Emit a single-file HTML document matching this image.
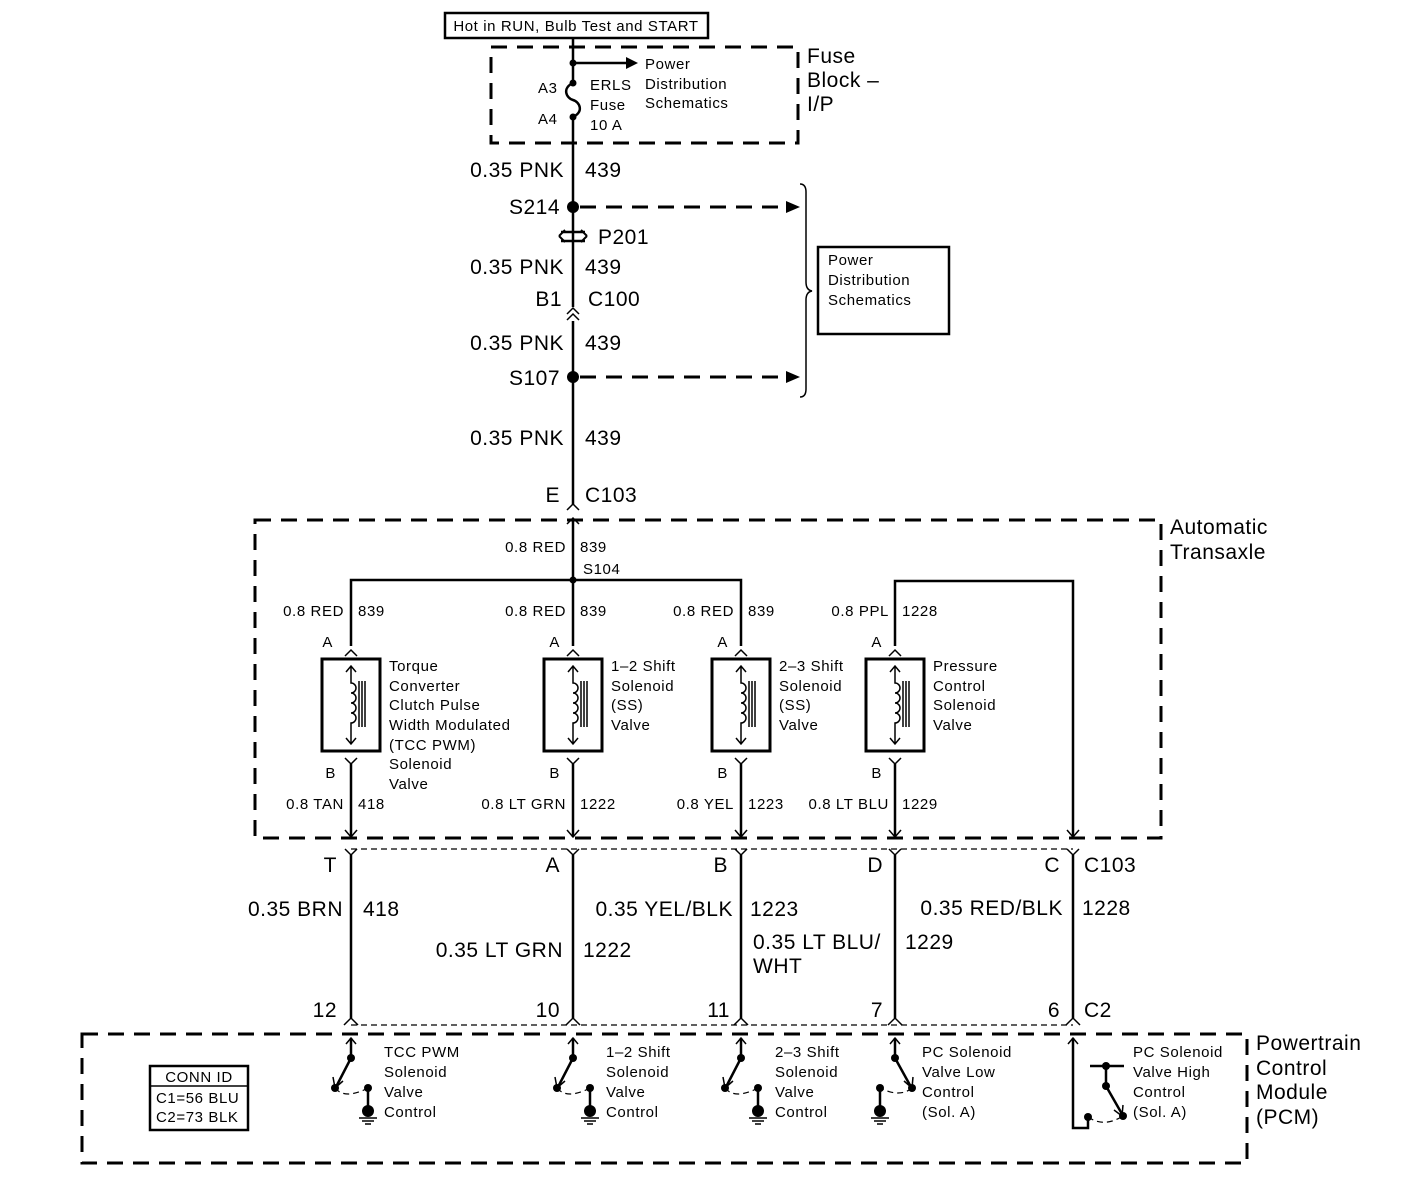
<!DOCTYPE html>
<html><head><meta charset="utf-8"><style>
html,body{margin:0;padding:0;background:#fff}
svg{display:block}
text{font-family:"Liberation Sans",Arial,sans-serif;fill:#000}
.s{font-size:15px;letter-spacing:0.6px}
.l{font-size:21px;letter-spacing:0.5px}
.e{text-anchor:end}
.w{stroke:#000;stroke-width:2.5;fill:none}
.t{stroke:#000;stroke-width:1.5;fill:none}
.d{stroke:#000;stroke-width:3;fill:none;stroke-dasharray:16,10}
.td{stroke:#000;stroke-width:1.2;fill:none;stroke-dasharray:6,4}
</style></head><body>
<svg width="1408" height="1180" viewBox="0 0 1408 1180" xmlns="http://www.w3.org/2000/svg">
<defs>
<g id="sol">
<rect x="-29" y="659" width="58" height="92" fill="none" stroke="#000" stroke-width="3"/>
<path class="t" d="M0 666V683a5 5 0 0 1 0 10a5 5 0 0 1 0 10a5 5 0 0 1 0 10a5 5 0 0 1 0 10V744M-5 672L0 666L5 672M-5 738L0 744L5 738"/>
<path class="t" d="M8 681V727M11 681V727M14 681V727"/>
<path class="t" d="M-6 656L0 650L6 656M-6 758L0 764L6 758"/>
<path class="w" d="M0 764V837"/>
<path class="t" d="M-6 830L0 837L6 830"/>
<path class="t" d="M-6 849L0 855L6 849"/>
</g>
<g id="pin">
<path class="w" d="M0 855V1018"/>
<path class="t" d="M-7 1025L0 1018L7 1025"/>
<path class="w" d="M0 1038V1058"/>
<path class="t" d="M-5 1044L0 1038L5 1044"/>
<circle cx="0" cy="1058" r="4"/>
</g>
<g id="gnd">
<path class="w" d="M0 1088V1106"/>
<circle cx="0" cy="1088" r="4"/>
<circle cx="0" cy="1111" r="6"/>
<path class="t" d="M-9 1118H9M-6 1121H6M-3 1124H3"/>
</g>
</defs>

<rect x="445" y="13" width="263" height="25" fill="none" stroke="#000" stroke-width="2.5"/>
<text x="576" y="31" class="s" text-anchor="middle">Hot in RUN, Bulb Test and START</text>

<rect x="491" y="47" width="307" height="96" class="d"/>
<text x="807" y="63" class="l">Fuse</text><text x="807" y="87" class="l">Block –</text><text x="807" y="111" class="l">I/P</text>
<path class="w" d="M573 38V83M573 117V505"/>
<circle cx="573" cy="63" r="3.5"/>
<path class="w" d="M573 63H628"/><path d="M626 57L638 63L626 69Z"/>
<text x="645" y="69" class="s">Power</text><text x="645" y="89" class="s">Distribution</text><text x="645" y="108" class="s">Schematics</text>
<circle cx="573" cy="83" r="3.5"/><circle cx="573" cy="117" r="3.5"/>
<path class="w" d="M573 83C562 88 566 98 573 100C580 102 584 112 573 117"/>
<text x="538" y="93" class="s">A3</text><text x="538" y="124" class="s">A4</text>
<text x="590" y="90" class="s">ERLS</text><text x="590" y="110" class="s">Fuse</text><text x="590" y="130" class="s">10 A</text>

<text x="564" y="177" class="l e">0.35 PNK</text><text x="585" y="177" class="l">439</text>
<circle cx="573" cy="207" r="6"/>
<text x="560" y="214" class="l e">S214</text>
<path class="d" d="M580 207H788" stroke-dasharray="14,10"/><path d="M786 201L800 207L786 213Z"/>
<path d="M561 232H585M561 241H585" stroke="#000" stroke-width="2.5"/>
<path d="M559 236L565 230M559 236L565 242M587 236L581 230M587 236L581 242" stroke="#000" stroke-width="2"/>
<text x="598" y="244" class="l">P201</text>
<text x="564" y="274" class="l e">0.35 PNK</text><text x="585" y="274" class="l">439</text>
<text x="562" y="306" class="l e">B1</text><text x="588" y="306" class="l">C100</text>
<rect x="568" y="307" width="10" height="14" fill="#fff"/>
<path class="t" d="M567 314L573 308L579 314M567 320L573 314L579 320"/>
<text x="564" y="350" class="l e">0.35 PNK</text><text x="585" y="350" class="l">439</text>
<circle cx="573" cy="377" r="6"/>
<text x="560" y="385" class="l e">S107</text>
<path class="d" d="M580 377H788" stroke-dasharray="14,10"/><path d="M786 371L800 377L786 383Z"/>
<text x="564" y="445" class="l e">0.35 PNK</text><text x="585" y="445" class="l">439</text>
<text x="560" y="502" class="l e">E</text><text x="585" y="502" class="l">C103</text>
<path class="t" d="M567 510L573 504L579 510"/>

<path class="t" d="M800 184Q806 184 806 192V282Q806 290 812 291Q806 292 806 300V389Q806 397 800 397"/>
<rect x="818" y="247" width="131" height="87" fill="none" stroke="#000" stroke-width="2.5"/>
<text x="828" y="265" class="s">Power</text><text x="828" y="285" class="s">Distribution</text><text x="828" y="305" class="s">Schematics</text>

<rect x="255" y="520" width="906" height="318" class="d"/>
<text x="1170" y="534" class="l">Automatic</text><text x="1170" y="559" class="l">Transaxle</text>
<path class="w" d="M573 520V646"/><path class="t" d="M567 524L573 518L579 524"/>
<circle cx="573" cy="580" r="3.5"/>
<text x="566" y="552" class="s e">0.8 RED</text><text x="580" y="552" class="s">839</text>
<text x="583" y="574" class="s">S104</text>
<path class="w" d="M351 646V580H741V646"/>
<path class="w" d="M895 646V581H1073V837"/><path class="t" d="M1067 830L1073 837L1079 830"/>
<path class="t" d="M1067 849L1073 855L1079 849"/>

<text x="344" y="616" class="s e">0.8 RED</text><text x="358" y="616" class="s">839</text>
<text x="566" y="616" class="s e">0.8 RED</text><text x="580" y="616" class="s">839</text>
<text x="734" y="616" class="s e">0.8 RED</text><text x="748" y="616" class="s">839</text>
<text x="889" y="616" class="s e">0.8 PPL</text><text x="902" y="616" class="s">1228</text>

<use href="#sol" x="351"/><use href="#sol" x="573"/><use href="#sol" x="741"/><use href="#sol" x="895"/>
<text x="333" y="647" class="s e">A</text><text x="560" y="647" class="s e">A</text><text x="728" y="647" class="s e">A</text><text x="882" y="647" class="s e">A</text>
<text x="336" y="778" class="s e">B</text><text x="560" y="778" class="s e">B</text><text x="728" y="778" class="s e">B</text><text x="882" y="778" class="s e">B</text>

<g class="s">
<text x="389" y="671">Torque</text><text x="389" y="691">Converter</text><text x="389" y="710">Clutch Pulse</text><text x="389" y="730">Width Modulated</text><text x="389" y="750">(TCC PWM)</text><text x="389" y="769">Solenoid</text><text x="389" y="789">Valve</text>
<text x="611" y="671">1–2 Shift</text><text x="611" y="691">Solenoid</text><text x="611" y="710">(SS)</text><text x="611" y="730">Valve</text>
<text x="779" y="671">2–3 Shift</text><text x="779" y="691">Solenoid</text><text x="779" y="710">(SS)</text><text x="779" y="730">Valve</text>
<text x="933" y="671">Pressure</text><text x="933" y="691">Control</text><text x="933" y="710">Solenoid</text><text x="933" y="730">Valve</text>
</g>
<text x="344" y="809" class="s e">0.8 TAN</text><text x="358" y="809" class="s">418</text>
<text x="566" y="809" class="s e">0.8 LT GRN</text><text x="580" y="809" class="s">1222</text>
<text x="734" y="809" class="s e">0.8 YEL</text><text x="748" y="809" class="s">1223</text>
<text x="889" y="809" class="s e">0.8 LT BLU</text><text x="902" y="809" class="s">1229</text>

<path class="td" d="M351 849H1073"/>
<path class="td" d="M351 1025H1073"/>

<text x="337" y="872" class="l e">T</text><text x="560" y="872" class="l e">A</text><text x="728" y="872" class="l e">B</text><text x="883" y="872" class="l e">D</text><text x="1060" y="872" class="l e">C</text><text x="1084" y="872" class="l">C103</text>

<text x="343" y="916" class="l e">0.35 BRN</text><text x="363" y="916" class="l">418</text>
<text x="563" y="957" class="l e">0.35 LT GRN</text><text x="583" y="957" class="l">1222</text>
<text x="733" y="916" class="l e">0.35 YEL/BLK</text><text x="750" y="916" class="l">1223</text>
<text x="753" y="949" class="l">0.35 LT BLU/</text><text x="753" y="973" class="l">WHT</text><text x="905" y="949" class="l">1229</text>
<text x="1063" y="915" class="l e">0.35 RED/BLK</text><text x="1082" y="915" class="l">1228</text>

<text x="337" y="1017" class="l e">12</text><text x="560" y="1017" class="l e">10</text><text x="730" y="1017" class="l e">11</text><text x="883" y="1017" class="l e">7</text><text x="1060" y="1017" class="l e">6</text><text x="1084" y="1017" class="l">C2</text>

<rect x="82" y="1034" width="1165" height="129" class="d"/>
<text x="1256" y="1050" class="l">Powertrain</text><text x="1256" y="1075" class="l">Control</text><text x="1256" y="1099" class="l">Module</text><text x="1256" y="1124" class="l">(PCM)</text>

<rect x="150" y="1066" width="98" height="64" fill="none" stroke="#000" stroke-width="2.5"/>
<path class="t" d="M150 1086H248"/>
<text x="199" y="1082" class="s" text-anchor="middle">CONN ID</text>
<text x="156" y="1103" class="s">C1=56 BLU</text><text x="156" y="1122" class="s">C2=73 BLK</text>

<g>
<use href="#pin" x="351"/><use href="#pin" x="573"/><use href="#pin" x="741"/><use href="#pin" x="895"/>
<path class="w" d="M1073 855V1018"/><path class="t" d="M1066 1025L1073 1018L1080 1025"/>
</g>
<g>
<path class="w" d="M351 1058L336 1087"/><path class="t" d="M333 1077L335 1088L343 1081"/><circle cx="335" cy="1088" r="4"/>
<path class="td" d="M335 1088Q345 1100 368 1088"/><use href="#gnd" x="368"/>
<path class="w" d="M573 1058L558 1087"/><path class="t" d="M555 1077L557 1088L565 1081"/><circle cx="557" cy="1088" r="4"/>
<path class="td" d="M557 1088Q567 1100 590 1088"/><use href="#gnd" x="590"/>
<path class="w" d="M741 1058L726 1087"/><path class="t" d="M723 1077L725 1088L733 1081"/><circle cx="725" cy="1088" r="4"/>
<path class="td" d="M725 1088Q735 1100 758 1088"/><use href="#gnd" x="758"/>
<path class="w" d="M895 1058L911 1087"/><path class="t" d="M904 1081L912 1088L913 1077"/><circle cx="912" cy="1088" r="4"/>
<path class="td" d="M912 1088Q900 1098 880 1088"/><use href="#gnd" x="880"/>
</g>
<path class="w" d="M1073 1038V1128H1088V1117"/><path class="t" d="M1068 1044L1073 1038L1078 1044"/>
<circle cx="1088" cy="1117" r="4"/>
<path class="w" d="M1090 1066H1124M1106 1066V1086L1122 1114"/>
<circle cx="1106" cy="1066" r="4"/><circle cx="1106" cy="1086" r="4"/><circle cx="1123" cy="1116" r="4"/>
<path class="t" d="M1114 1110L1122 1116L1123 1105"/>
<path class="td" d="M1088 1117Q1104 1128 1123 1116"/>

<g class="s">
<text x="384" y="1057">TCC PWM</text><text x="384" y="1077">Solenoid</text><text x="384" y="1097">Valve</text><text x="384" y="1117">Control</text>
<text x="606" y="1057">1–2 Shift</text><text x="606" y="1077">Solenoid</text><text x="606" y="1097">Valve</text><text x="606" y="1117">Control</text>
<text x="775" y="1057">2–3 Shift</text><text x="775" y="1077">Solenoid</text><text x="775" y="1097">Valve</text><text x="775" y="1117">Control</text>
<text x="922" y="1057">PC Solenoid</text><text x="922" y="1077">Valve Low</text><text x="922" y="1097">Control</text><text x="922" y="1117">(Sol. A)</text>
<text x="1133" y="1057">PC Solenoid</text><text x="1133" y="1077">Valve High</text><text x="1133" y="1097">Control</text><text x="1133" y="1117">(Sol. A)</text>
</g>
</svg>
</body></html>
